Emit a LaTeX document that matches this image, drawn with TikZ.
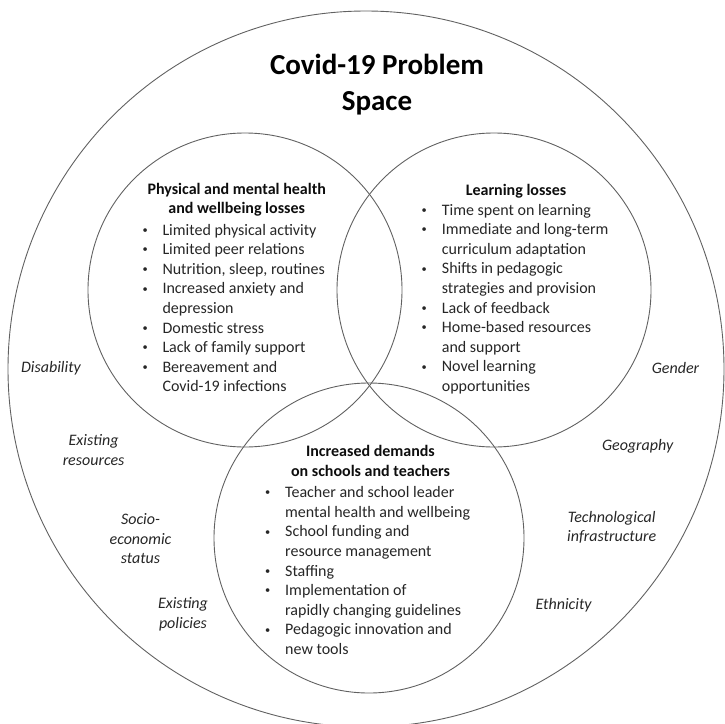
\documentclass[tikz,border=0pt]{standalone}
\usepackage{fontspec}
\setmainfont{Carlito}
\def\bodysize{\fontsize{16}{19.6}\selectfont}
\def\blt{\raisebox{1.8pt}{\scalebox{0.65}{\textbullet}}}
\tikzset{
	ring/.style={line width=0.9pt, color=black!62},
	titletext/.style={font=\bfseries\fontsize{29}{35.5}\selectfont, text=black, inner sep=0pt, anchor=base},
	headtext/.style={font=\bfseries\bodysize, text=black!95, inner sep=0pt, anchor=base},
	listtext/.style={font=\bodysize, text=black!85, inner sep=0pt, anchor=base west},
	factor/.style={font=\itshape\bodysize, text=black!85, inner sep=0pt, align=center},
}

\begin{document}
\begin{tikzpicture}[x=1pt, y=-1pt]
			%%%%% START %%%%%
			\useasboundingbox (0, 0) rectangle (725, 723);
			
			\coordinate (outerc) at (366, 369);
			\coordinate (healthc) at (245, 290);
			\coordinate (learnc) at (494, 290);
			\coordinate (schoolc) at (369, 538);
			
			\draw[ring] (outerc) circle (358pt);
			\draw[ring] (healthc) circle (157pt);
			\draw[ring] (learnc) circle (157pt);
			\draw[ring] (schoolc) circle (155pt);
			
			\node[titletext] (title) at (377, 74.5) {\begin{tabular}[t]{@{}c@{}}Covid-19 Problem\\Space\end{tabular}};
			
			% left circle
			\node[headtext] (healthhead) at (236.7, 194.3) {\begin{tabular}[t]{@{}c@{}}Physical and mental health\\and wellbeing losses\end{tabular}};
			\node[listtext] (healthlist) at (142.5, 235) {\begin{tabular}[t]{@{}p{19.8pt}@{}l@{}}
				\blt & Limited physical activity\\
				\blt & Limited peer relations\\
				\blt & Nutrition, sleep, routines\\
				\blt & Increased anxiety and\\
				& depression\\
				\blt & Domestic stress\\
				\blt & Lack of family support\\
				\blt & Bereavement and\\
				& Covid-19 infections
			\end{tabular}};
			
			% right circle
			\node[headtext] (learnhead) at (516, 195.7) {\begin{tabular}[t]{@{}c@{}}Learning losses\end{tabular}};
			\node[listtext] (learnlist) at (421.5, 215) {\begin{tabular}[t]{@{}p{20.2pt}@{}l@{}}
				\blt & Time spent on learning\\
				\blt & Immediate and long-term\\
				& curriculum adaptation\\
				\blt & Shifts in pedagogic\\
				& strategies and provision\\
				\blt & Lack of feedback\\
				\blt & Home-based resources\\
				& and support\\
				\blt & Novel learning\\
				& opportunities
			\end{tabular}};
			
			% bottom circle
			\node[headtext] (schoolhead) at (370.5, 456.7) {\begin{tabular}[t]{@{}c@{}}Increased demands\\on schools and teachers\end{tabular}};
			\node[listtext] (schoollist) at (265, 497.7) {\begin{tabular}[t]{@{}p{20pt}@{}l@{}}
				\blt & Teacher and school leader\\
				& mental health and wellbeing\\
				\blt & School funding and\\
				& resource management\\
				\blt & Staffing\\
				\blt & Implementation of\\
				& rapidly changing guidelines\\
				\blt & Pedagogic innovation and\\
				& new tools
			\end{tabular}};
			
			% factors round the edge
			\node[factor] (disability) at (51, 368) {Disability};
			\node[factor] (gender) at (675.5, 368) {Gender};
			\node[factor] (resources) at (93.6, 450) {Existing\\resources};
			\node[factor] (geography) at (637.6, 446) {Geography};
			\node[factor] (socioeco) at (140.5, 538.6) {Socio-\\economic\\status};
			\node[factor] (techinfra) at (611.7, 527.5) {Technological\\infrastructure};
			\node[factor] (policies) at (183, 614) {Existing\\policies};
			\node[factor] (ethnicity) at (563.6, 605) {Ethnicity};
			
			%%%%% END %%%%%
\end{tikzpicture}
\end{document}
